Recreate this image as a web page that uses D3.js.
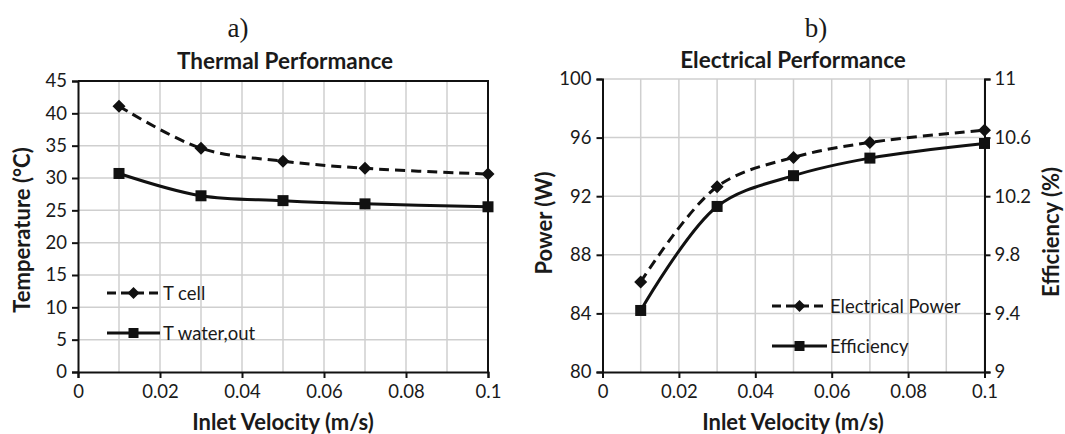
<!DOCTYPE html>
<html>
<head>
<meta charset="utf-8">
<script src="https://cdn.jsdelivr.net/npm/d3@7"></script>
<style>
  html, body { margin: 0; padding: 0; background: #fff; }
  svg { display: block; }
  text { font-family: Lato, "Open Sans", sans-serif; fill: #1a1a1a; }
</style>
</head>
<body>
<svg id="chart" width="1065" height="434"></svg>
<script>
// Inlet velocity (m/s) at which each case was simulated
const velocity = [0.01, 0.03, 0.05, 0.07, 0.1];

// a) Thermal performance (°C)
const tCell = [41.1, 34.6, 32.6, 31.5, 30.6];
const tWaterOut = [30.7, 27.25, 26.5, 26.0, 25.55];

// b) Electrical performance
const electricalPower = [86.15, 92.65, 94.65, 95.67, 96.51]; // W
const efficiency = [9.42, 10.13, 10.34, 10.46, 10.56];       // %

// Axis ticks
const velocityTicks = [0, 0.02, 0.04, 0.06, 0.08, 0.1];
const velocityGrid = [0.01, 0.02, 0.03, 0.04, 0.05, 0.06, 0.07, 0.08, 0.09, 0.1];
const temperatureTicks = [0, 5, 10, 15, 20, 25, 30, 35, 40, 45];
const powerTicks = [80, 84, 88, 92, 96, 100];
const efficiencyTicks = [9, 9.4, 9.8, 10.2, 10.6, 11];

const svg = d3.select("#chart");
const GRID = "#cfcfcf";
const INK = "#111";
const smooth = d3.curveCatmullRom.alpha(0.5);

function diamond(g, x, y, r) {
  g.append("path")
    .attr("d", `M${x},${y - r}L${x + r},${y}L${x},${y + r}L${x - r},${y}Z`)
    .attr("fill", INK);
}
function square(g, x, y, s) {
  g.append("rect")
    .attr("x", x - s / 2).attr("y", y - s / 2)
    .attr("width", s).attr("height", s)
    .attr("fill", INK);
}

function styleAxis(g) {
  g.select(".domain").attr("stroke", INK).attr("stroke-width", 2);
  g.selectAll(".tick line").attr("stroke", INK).attr("stroke-width", 2);
  g.selectAll(".tick text")
    .attr("font-size", 18.5)
    .attr("font-family", "Lato, sans-serif")
    .attr("fill", "#222");
}

function drawSeries(g, x, y, values, dashed, marker) {
  const pts = velocity.map((v, i) => [x(v), y(values[i])]);
  g.append("path")
    .attr("d", d3.line().curve(smooth)(pts))
    .attr("fill", "none")
    .attr("stroke", INK)
    .attr("stroke-width", 3)
    .attr("stroke-dasharray", dashed ? "10,6" : null);
  pts.forEach(([px, py]) => marker === "diamond" ? diamond(g, px, py, 6.5) : square(g, px, py, 11));
}

function legendEntry(g, x0, x1, y, label, dashed, marker) {
  g.append("line")
    .attr("x1", x0).attr("x2", x1).attr("y1", y).attr("y2", y)
    .attr("stroke", INK).attr("stroke-width", 3)
    .attr("stroke-dasharray", dashed ? "9,5" : null);
  const cx = (x0 + x1) / 2;
  if (marker === "diamond") diamond(g, cx, y, 6);
  else square(g, cx, y, 10);
  g.append("text")
    .attr("x", x1 + 3).attr("y", y + 7)
    .attr("font-size", 18.5)
    .text(label);
}

function grid(g, x, y, yTicks) {
  g.append("g").selectAll("line").data(velocityGrid).join("line")
    .attr("x1", d => x(d)).attr("x2", d => x(d))
    .attr("y1", y.range()[0]).attr("y2", y.range()[1])
    .attr("stroke", GRID).attr("stroke-width", 1.5);
  g.append("g").selectAll("line").data(yTicks.slice(1)).join("line")
    .attr("x1", x.range()[0]).attr("x2", x.range()[1])
    .attr("y1", d => y(d)).attr("y2", d => y(d))
    .attr("stroke", GRID).attr("stroke-width", 1.5);
}

// ---------- a) Thermal Performance ----------
{
  const g = svg.append("g");
  const x = d3.scaleLinear().domain([0, 0.1]).range([78, 488]);
  const y = d3.scaleLinear().domain([0, 45]).range([372, 81]);

  grid(g, x, y, temperatureTicks);

  // plot-area frame on top and right
  g.append("path")
    .attr("d", `M${x(0)},${y(45)}H${x(0.1)}V${y(0)}`)
    .attr("fill", "none").attr("stroke", INK).attr("stroke-width", 2);

  g.append("g").attr("transform", `translate(0,${y(0)})`)
    .call(d3.axisBottom(x).tickValues(velocityTicks).tickFormat(d => String(d)).tickSizeOuter(0).tickSize(6).tickPadding(7))
    .call(styleAxis);
  g.append("g").attr("transform", `translate(${x(0)},0)`)
    .call(d3.axisLeft(y).tickValues(temperatureTicks).tickFormat(d => String(d)).tickSizeOuter(0).tickSize(6).tickPadding(5))
    .call(styleAxis);

  drawSeries(g, x, y, tCell, true, "diamond");
  drawSeries(g, x, y, tWaterOut, false, "square");

  legendEntry(g, 107, 160, 293, "T cell", true, "diamond");
  legendEntry(g, 107, 160, 333, "T water,out", false, "square");

  g.append("text").attr("x", 238).attr("y", 37)
    .attr("text-anchor", "middle")
    .style("font-family", "'Liberation Serif', serif")
    .attr("font-size", 27).text("a)");
  g.append("text").attr("x", 285).attr("y", 69)
    .attr("text-anchor", "middle").attr("font-weight", "bold").attr("font-size", 22.5)
    .text("Thermal Performance");
  g.append("text").attr("x", 283).attr("y", 430)
    .attr("text-anchor", "middle").attr("font-weight", "bold").attr("font-size", 22)
    .text("Inlet Velocity (m/s)");
  g.append("text").attr("transform", "translate(30,230) rotate(-90)")
    .attr("text-anchor", "middle").attr("font-weight", "bold").attr("font-size", 22)
    .text("Temperature (°C)");
}

// ---------- b) Electrical Performance ----------
{
  const g = svg.append("g");
  const x = d3.scaleLinear().domain([0, 0.1]).range([602.5, 984.5]);
  const y = d3.scaleLinear().domain([80, 100]).range([372, 79]);
  const y2 = d3.scaleLinear().domain([9, 11]).range([372, 79]);

  grid(g, x, y, powerTicks);

  g.append("g").attr("transform", `translate(0,${y(80)})`)
    .call(d3.axisBottom(x).tickValues(velocityTicks).tickFormat(d => String(d)).tickSizeOuter(0).tickSize(6).tickPadding(7))
    .call(styleAxis);
  g.append("g").attr("transform", `translate(${x(0)},0)`)
    .call(d3.axisLeft(y).tickValues(powerTicks).tickFormat(d => String(d)).tickSizeOuter(0).tickSize(6).tickPadding(5))
    .call(styleAxis);
  g.append("g").attr("transform", `translate(${x(0.1)},0)`)
    .call(d3.axisRight(y2).tickValues(efficiencyTicks).tickFormat(d => String(d)).tickSizeOuter(0).tickSize(6).tickPadding(4))
    .call(styleAxis);

  drawSeries(g, x, y, electricalPower, true, "diamond");
  drawSeries(g, x, y2, efficiency, false, "square");

  legendEntry(g, 772, 827, 306, "Electrical Power", true, "diamond");
  legendEntry(g, 772, 827, 346, "Efficiency", false, "square");

  g.append("text").attr("x", 816).attr("y", 37)
    .attr("text-anchor", "middle")
    .style("font-family", "'Liberation Serif', serif")
    .attr("font-size", 27).text("b)");
  g.append("text").attr("x", 793).attr("y", 68)
    .attr("text-anchor", "middle").attr("font-weight", "bold").attr("font-size", 22.5)
    .text("Electrical Performance");
  g.append("text").attr("x", 793).attr("y", 430)
    .attr("text-anchor", "middle").attr("font-weight", "bold").attr("font-size", 22)
    .text("Inlet Velocity (m/s)");
  g.append("text").attr("transform", "translate(552,223) rotate(-90)")
    .attr("text-anchor", "middle").attr("font-weight", "bold").attr("font-size", 22)
    .text("Power (W)");
  g.append("text").attr("transform", "translate(1059,232) rotate(-90)")
    .attr("text-anchor", "middle").attr("font-weight", "bold").attr("font-size", 22)
    .text("Efficiency (%)");
}
</script>
</body>
</html>
